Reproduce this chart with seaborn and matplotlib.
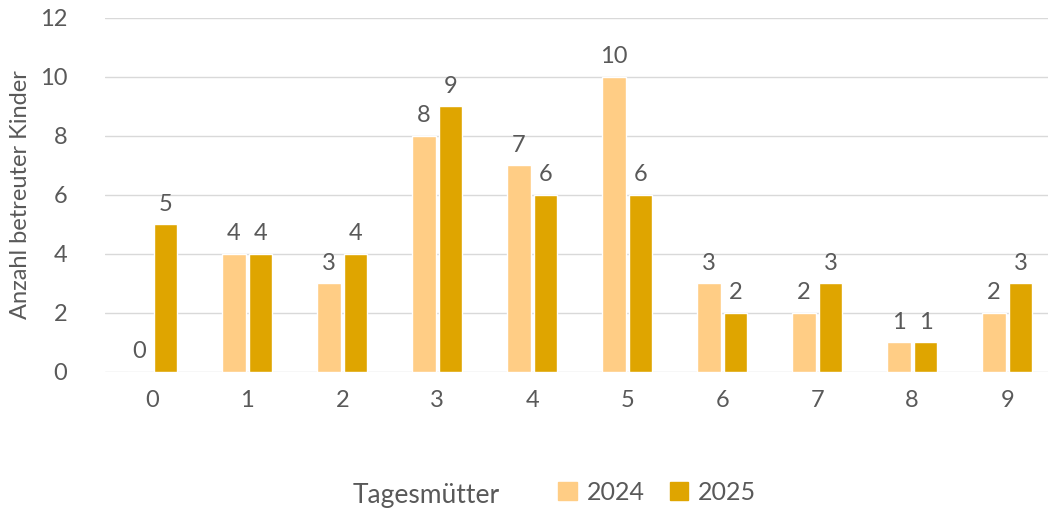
import matplotlib.pyplot as plt
import seaborn as sns
import pandas as pd

# Daten
tagesmuetter = ["0", "1", "2", "3", "4", "5", "6", "7", "8", "9"]
kinder_2024 = [0, 4, 3, 8, 7, 10, 3, 2, 1, 2]
kinder_2025 = [5, 4, 4, 9, 6, 6, 2, 3, 1, 3]
jahre = ["2024", "2025"]
farben = ["#FFCD85", "#DFA500"]

df = pd.DataFrame({
    "Tagesmütter": tagesmuetter * 2,
    "Anzahl": kinder_2024 + kinder_2025,
    "Jahr": [jahre[0]] * len(tagesmuetter) + [jahre[1]] * len(tagesmuetter),
})

sns.set_style("white")
plt.rcParams["font.family"] = ["Lato", "DejaVu Sans"]
grau = "#595959"

fig = plt.figure(figsize=(10.48, 5.13), dpi=100)
ax = fig.add_axes([0.1, 0.275, 0.9, 0.69])

sns.barplot(data=df, x="Tagesmütter", y="Anzahl", hue="Jahr",
            palette=farben, saturation=1, width=0.56, gap=0.12, ax=ax, legend=False)

for cont in ax.containers:
    ax.bar_label(cont, padding=7, fontsize=17, color=grau)

ax.set_ylim(0, 12)
ax.set_xlim(-0.5, 9.43)
ax.set_yticks(range(0, 13, 2))
ax.yaxis.grid(True, color="#D9D9D9", linewidth=1)
ax.set_axisbelow(True)
sns.despine(ax=ax, left=True, bottom=True)
ax.tick_params(axis="both", length=0, labelsize=17, labelcolor=grau)
ax.tick_params(axis="x", pad=13)
ax.tick_params(axis="y", pad=27)
ax.set_xlabel("")
ax.set_ylabel("Anzahl betreuter Kinder", fontsize=17, color=grau, labelpad=6)

fig.text(0.336, 0.035, "Tagesmütter", fontsize=19, color=grau, ha="left", va="center")
handles = [plt.Rectangle((0, 0), 1, 1, color=c) for c in farben]
fig.legend(handles, jahre, loc="center", bbox_to_anchor=(0.627, 0.04), ncol=2,
           frameon=False, fontsize=18, labelcolor=grau, handlelength=0.75,
           handleheight=0.75, handletextpad=0.4, columnspacing=1.0)

fig.savefig("out.png", dpi=100)
